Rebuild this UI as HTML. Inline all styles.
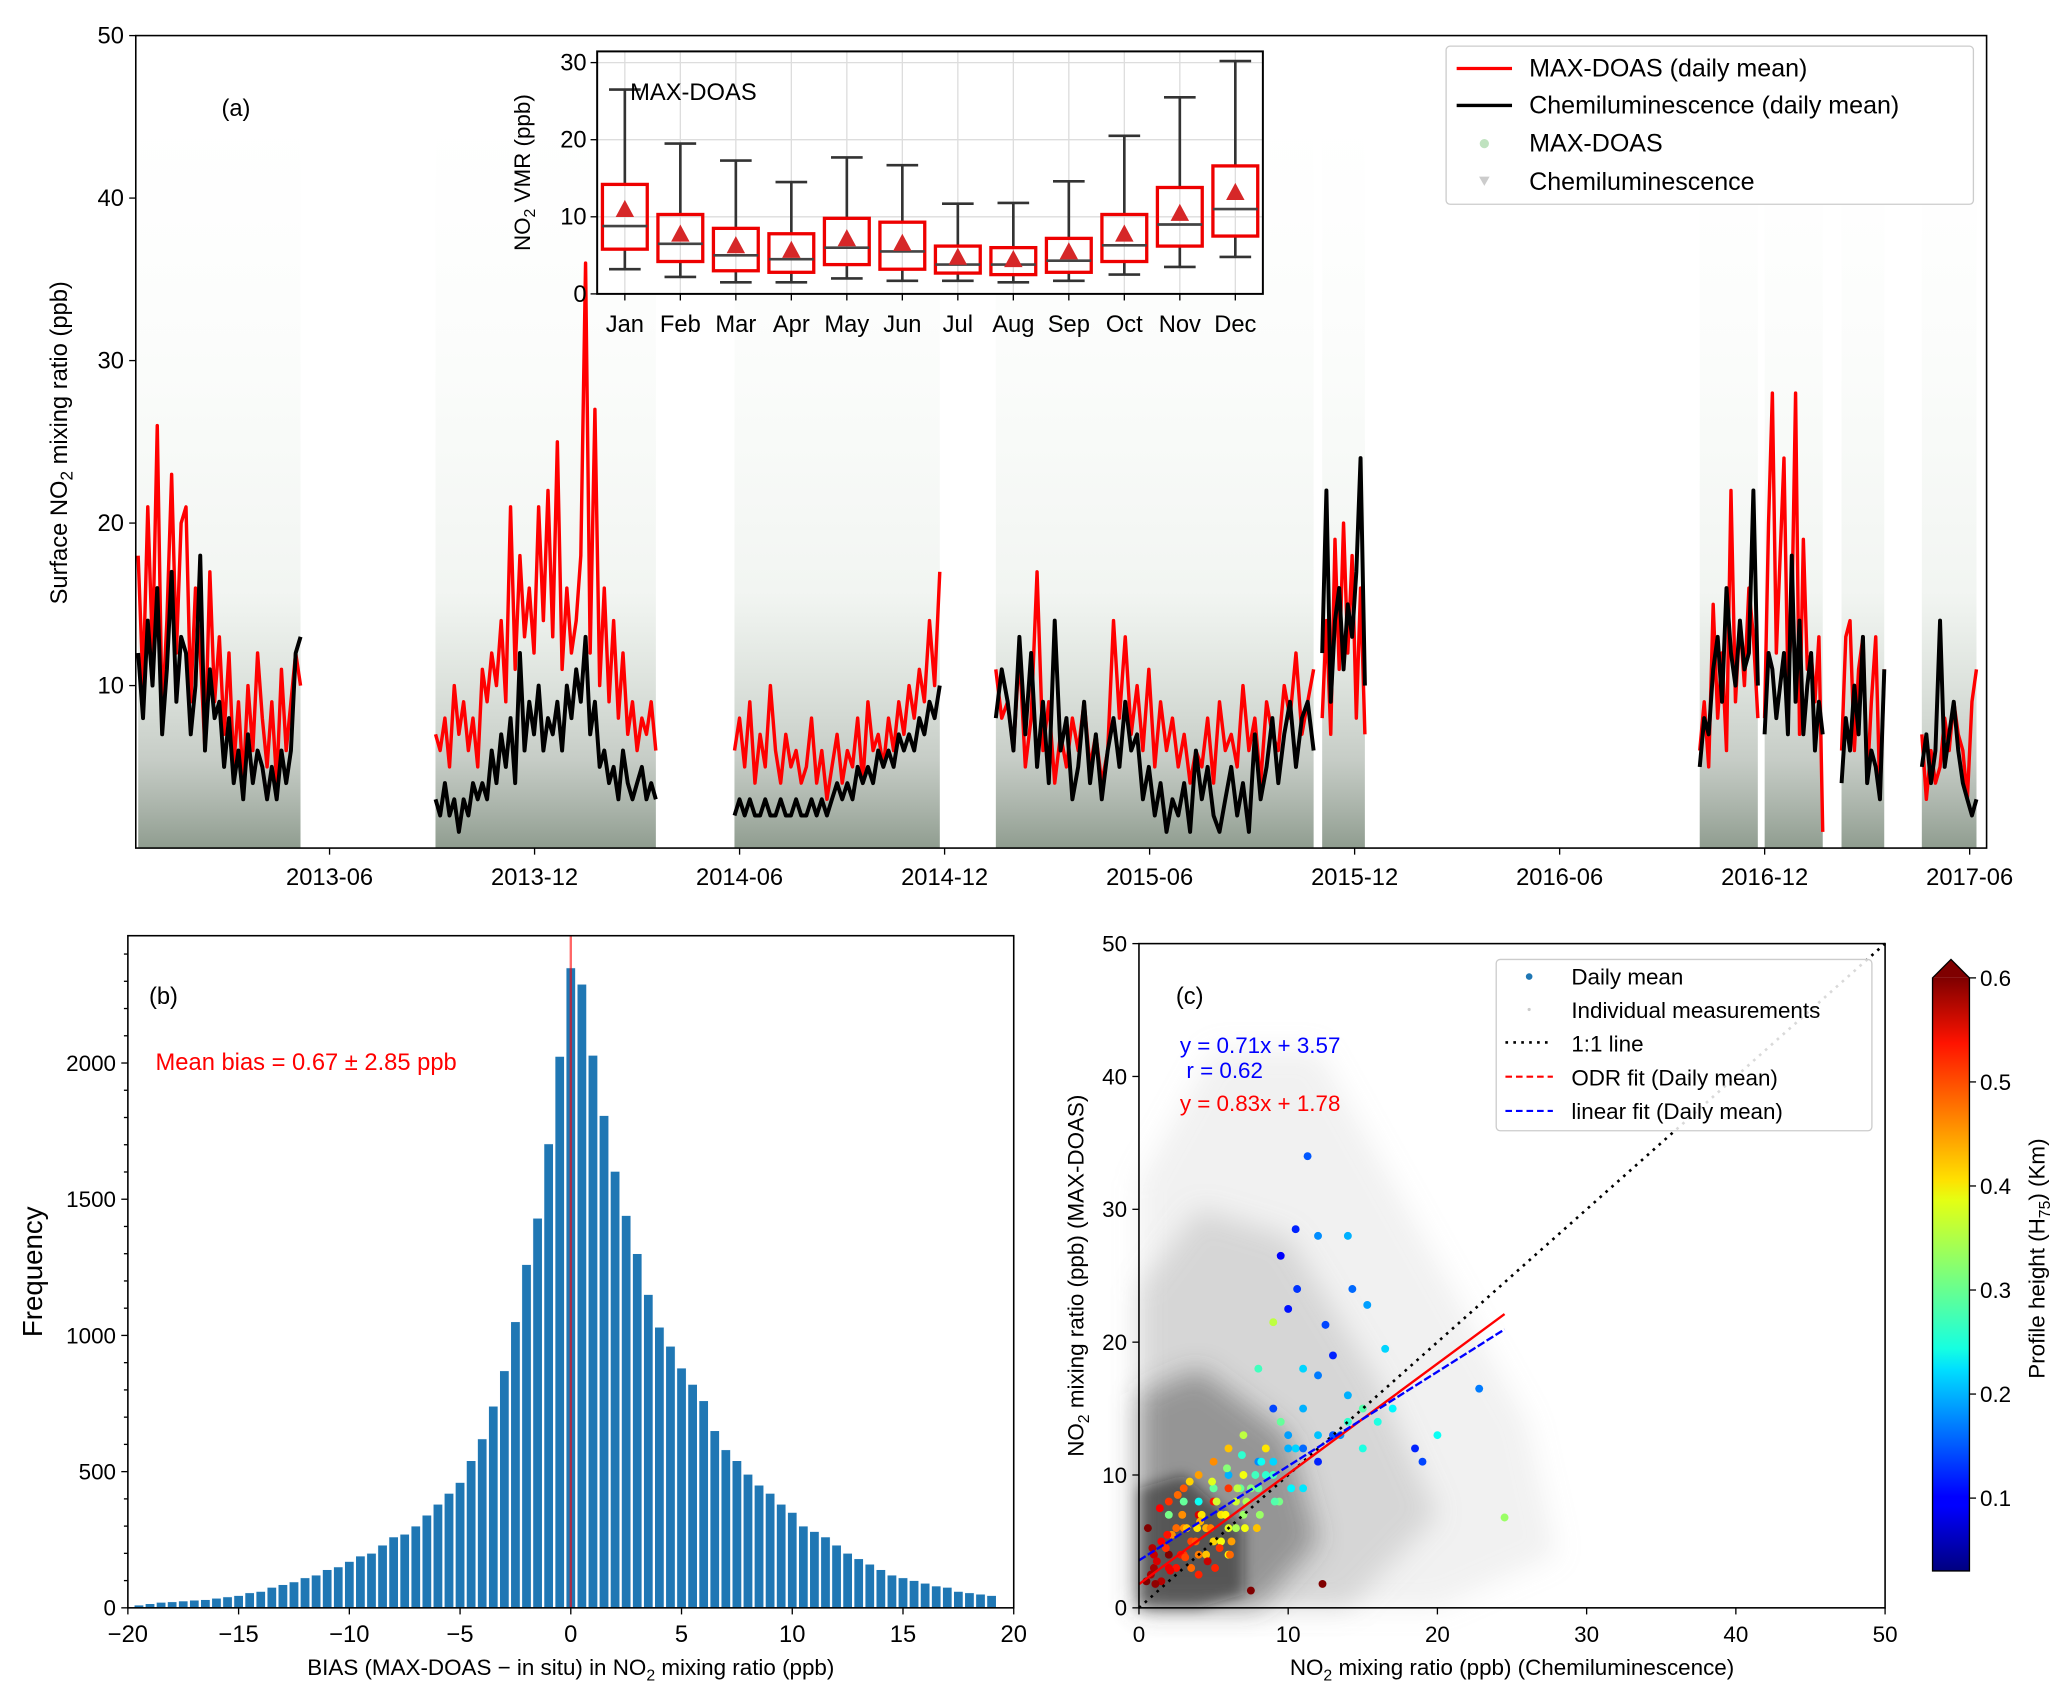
<!DOCTYPE html>
<html><head><meta charset="utf-8"><style>
html,body{margin:0;padding:0;background:#fff}
svg{display:block}
text{font-family:"Liberation Sans","DejaVu Sans",sans-serif;fill:#000}
</style></head><body>
<svg id="fig" xmlns="http://www.w3.org/2000/svg" width="2067" height="1708" viewBox="0 0 1568 1296" preserveAspectRatio="none">
<defs>
<filter id="blur6" x="-50%" y="-50%" width="200%" height="200%"><feGaussianBlur stdDeviation="10"/></filter>
<filter id="blur3" x="-50%" y="-50%" width="200%" height="200%"><feGaussianBlur stdDeviation="5"/></filter>
<linearGradient id="cloudG" x1="0" y1="1" x2="0" y2="0"><stop offset="0" stop-color="#203a20" stop-opacity="0.5"/><stop offset="0.12" stop-color="#405540" stop-opacity="0.3"/><stop offset="0.35" stop-color="#7a9a7a" stop-opacity="0.1"/><stop offset="0.7" stop-color="#a0c0a0" stop-opacity="0.04"/><stop offset="1" stop-color="#c0d8c0" stop-opacity="0"/></linearGradient>
<linearGradient id="jetG" x1="0" y1="1" x2="0" y2="0">
<stop offset="0" stop-color="#00007f"/><stop offset="0.11" stop-color="#0000ff"/><stop offset="0.125" stop-color="#0000ff"/><stop offset="0.34" stop-color="#00dfff"/><stop offset="0.375" stop-color="#16ffe1"/><stop offset="0.5" stop-color="#7dff7a"/><stop offset="0.625" stop-color="#e4ff13"/><stop offset="0.66" stop-color="#ffe000"/><stop offset="0.89" stop-color="#ff1300"/><stop offset="1" stop-color="#7f0000"/></linearGradient>
</defs>
<g id="pa"></g>
<g id="pb"></g>
<g id="pc"></g>
</svg>
<script>
// ---------- Panel (a) data ----------
const segStarts = [-0.6, 8.1, 16.85, 24.5, 34.05, 45.1, 47.0, 49.25, 51.6];
const segEnds   = [4.15, 14.55, 22.86, 33.8, 35.3, 46.8, 48.7, 50.5, 53.2];
const redSeries = [
 [18,10,21,12,26,8,14,23,12,20,21,9,16,12,6,17,9,13,7,12,5,9,4,10,6,12,8,5,9,4,11,6,9,12,10],
 [7,6,8,5,10,7,9,6,8,5,11,9,12,10,14,9,21,11,18,13,16,12,21,14,22,13,25,11,16,12,14,18,36,12,27,10,16,9,14,8,12,7,9,6,8,7,9,6],
 [6,8,5,9,4,7,5,10,6,4,7,5,6,4,5,8,4,6,3,5,7,4,6,5,8,4,9,6,7,5,8,6,9,7,10,8,11,9,14,10,17],
 [11,8,9,6,12,5,8,17,6,9,4,7,5,8,6,9,5,7,4,6,14,8,13,7,10,6,11,5,9,6,8,5,7,4,6,5,8,4,9,6,7,5,10,6,8,4,9,7,6,10,8,12,7,9,11],
 [8,14,7,19,11,20,12,18,8,16,7],
 [6,9,5,15,8,12,6,22,9,14,10,16,13,8],
 [8,20,28,12,18,24,10,14,28,7,19,11,12,9,13,1],
 [6,13,14,6,11,13,4,9,13,3,11],
 [7,3,6,4,5,8,6,9,7,6,3,9,11]
];
const blackSeries = [
 [12,8,14,10,16,7,11,17,9,13,12,7,10,18,6,11,8,9,5,8,4,6,3,7,4,6,5,3,5,3,6,4,6,12,13],
 [3,2,4,2,3,1,3,2,4,3,4,3,6,4,7,5,8,4,12,6,9,7,10,6,8,7,9,6,10,8,11,9,13,7,9,5,6,4,5,3,6,4,3,4,5,3,4,3],
 [2,3,2,3,2,2,3,2,2,3,2,2,3,2,2,3,2,3,2,3,4,3,4,3,5,4,5,4,6,5,6,5,7,6,7,6,8,7,9,8,10],
 [8,11,9,6,13,7,12,5,9,4,14,6,8,3,5,9,4,7,3,6,8,5,9,6,7,3,5,2,4,1,3,2,4,1,6,3,5,2,1,3,5,2,4,1,7,3,5,8,4,7,9,5,8,9,6],
 [12,22,9,14,16,11,15,13,17,24,10],
 [5,8,7,11,13,9,16,12,10,14,11,12,22,10],
 [7,12,11,8,10,12,7,18,9,14,7,10,12,6,9,7],
 [4,8,6,10,7,13,4,6,5,3,11],
 [5,7,4,6,14,5,7,9,6,4,3,2,3]
];
const dateTicks = [5,11,17,23,29,35,41,47,53];
const dateLabels = ["2013-06","2013-12","2014-06","2014-12","2015-06","2015-12","2016-06","2016-12","2017-06"];
const aYTicks = [10,20,30,40,50];
// inset box plot data
const months = ["Jan","Feb","Mar","Apr","May","Jun","Jul","Aug","Sep","Oct","Nov","Dec"];
const wLow  = [3.2,2.2,1.5,1.5,2.0,1.7,1.7,1.5,1.7,2.5,3.5,4.8];
const q1    = [5.8,4.2,3.0,2.8,3.8,3.2,2.7,2.5,2.8,4.2,6.2,7.5];
const med   = [8.8,6.5,5.0,4.5,6.0,5.5,3.8,3.8,4.3,6.3,9.0,11.0];
const q3    = [14.2,10.3,8.5,7.8,9.8,9.3,6.2,6.0,7.2,10.3,13.8,16.6];
const wHigh = [26.5,19.5,17.3,14.5,17.7,16.7,11.7,11.8,14.6,20.5,25.5,30.2];
const meanV = [11.0,7.8,6.3,5.7,7.2,6.6,4.8,4.5,5.5,7.8,10.5,13.2];
const insetYTicks = [0,10,20,30];
// ---------- Panel (b) data ----------
const binCenters = [];
for (let c = -19.5; c <= 19.01; c += 0.5) binCenters.push(+c.toFixed(1));
const binCounts = [10,15,20,22,25,28,30,35,40,45,55,60,75,85,95,110,120,140,150,170,190,200,230,260,270,300,340,380,420,460,540,620,740,870,1050,1260,1430,1703,2024,2349,2289,2028,1807,1602,1440,1300,1150,1030,960,880,820,760,650,580,540,490,450,420,380,350,300,280,260,230,200,180,160,140,120,110,100,90,80,75,60,55,50,45];
const bXTicks = [-20,-15,-10,-5,0,5,10,15,20];
const bYTicks = [0,500,1000,1500,2000];
const meanBias = 0;
// ---------- Panel (c) data ----------
const dmX = [11.3,10.5,12,14,9.5,10.6,14.3,10,15.3,12.5,9,16.5,8,13,12,14,17,22.8,19,18.5,24.5,20,11,13.5,15,9.5,10.5,12,7,8.5,9,10,11,6,7,8,5,6,4,5,3,4,2,3,1.5,2.5,1,2,3.5,4.5,5.5,6.5,7.5,8.5,1,2,3,4,5,6,7,0.5,1.5,2.5,3.5,4.5,5.5,6.5,2,3,4,5,6,8,9,10,11,12,13,14,15,16,7.5,12.3,3,5,9,11,6,4,
 0.8,1.2,1.8,2.2,2.8,3.2,3.8,4.2,4.8,5.2,5.8,6.2,6.8,7.2,0.6,1.4,2.6,3.4,4.6,5.4,6.6,7.8,8.2,9.4,1.1,2.1,3.1,4.1,5.1,6.1,7.1,8.1,9.1,10.2,0.9,1.9,2.9,3.9,4.9,5.9,6.9,7.9];
const dmY = [34,28.5,28,28,26.5,24,24,22.5,22.8,21.3,21.5,19.5,18,19,17.5,16,15,16.5,11,12,6.8,13,15,13,12,14,12,11,13,12,10,13,9,12,10,9,11,9,10,8,9,7,8,6,5,6,4,4,5,6,7,8,9,10,3,3,4,4,5,6,7,2,2,3,3,4,5,6,7,8,8,9,10,11,11,12,12,13,13,14,15,14,1.3,1.8,6,9,15,18,4,2.5,
 2.5,3.5,4.5,5.5,4,6,5,7,6,8,7,5,9,8,6,7.5,8.5,9.5,3.5,4.5,9,10,11,8,1.8,2.8,3.8,6.5,3,4,6,7,8,9,4.5,5.5,7,6,9.5,10.5,11.5,6];
const dmH = [0.15,0.12,0.18,0.2,0.1,0.13,0.16,0.11,0.19,0.14,0.35,0.22,0.28,0.12,0.17,0.2,0.24,0.17,0.14,0.12,0.33,0.25,0.2,0.18,0.26,0.3,0.22,0.12,0.35,0.4,0.28,0.19,0.23,0.42,0.38,0.3,0.45,0.5,0.44,0.52,0.48,0.55,0.5,0.58,0.53,0.47,0.56,0.6,0.49,0.43,0.4,0.36,0.32,0.27,0.58,0.54,0.5,0.46,0.41,0.37,0.33,0.6,0.57,0.52,0.47,0.42,0.38,0.34,0.31,0.3,0.25,0.24,0.2,0.18,0.22,0.2,0.16,0.21,0.15,0.27,0.29,0.26,0.6,0.6,0.45,0.3,0.14,0.22,0.39,0.51,
 0.58,0.55,0.5,0.45,0.52,0.42,0.48,0.4,0.46,0.36,0.39,0.44,0.3,0.34,0.6,0.53,0.47,0.41,0.56,0.5,0.35,0.28,0.25,0.31,0.59,0.54,0.49,0.43,0.51,0.47,0.38,0.33,0.29,0.24,0.57,0.52,0.45,0.4,0.37,0.32,0.27,0.42];
const cTicks = [0,10,20,30,40,50];
const cbTicks = [0.1,0.2,0.3,0.4,0.5,0.6];
const odrFit = [0.83,1.78];
const linFit = [0.71,3.57];
const fitMaxX = 24.5;

// ---------- helpers ----------
const NS = "http://www.w3.org/2000/svg";
function mk(parent, tag, attrs, txt){
  const e = document.createElementNS(NS, tag);
  for (const k in attrs) e.setAttribute(k, attrs[k]);
  if (txt !== undefined) e.textContent = txt;
  parent.appendChild(e); return e;
}
function jet(v){
  const t = Math.max(0, Math.min(1, (v-0.03)/(0.6-0.03)));
  const r = Math.max(0, Math.min(1, 1.5 - Math.abs(4*t-3)));
  const g = Math.max(0, Math.min(1, 1.5 - Math.abs(4*t-2)));
  const b = Math.max(0, Math.min(1, 1.5 - Math.abs(4*t-1)));
  return `rgb(${Math.round(r*255)},${Math.round(g*255)},${Math.round(b*255)})`;
}

// ---------- Panel (a) ----------
const pa = document.getElementById('pa');
const aL=103, aR=1507, aT=27, aB=643.5;
const ax = m => 120.4 + m*25.92;
const ay = v => aB - v*12.33;
for (let s=0; s<segStarts.length; s++){
  const r = mk(pa,'rect',{x:ax(segStarts[s]), y:ay(45), width:ax(segEnds[s])-ax(segStarts[s]), height:ay(0)-ay(45), fill:'url(#cloudG)'});
  
  
}
for (let s=0; s<segStarts.length; s++){
  [[redSeries,'#ff0000',2.6,'maxdoas-daily-line-'],[blackSeries,'#000',3,'chemi-daily-line-']].forEach(([ser,col,w,nm])=>{
    const vals = ser[s], n = vals.length;
    const pts = vals.map((v,i)=>`${(ax(segStarts[s] + (segEnds[s]-segStarts[s])*i/(n-1))).toFixed(1)},${ay(v).toFixed(1)}`).join(' ');
    const p = mk(pa,'polyline',{points:pts, fill:'none', stroke:col, 'stroke-width':w, 'stroke-linejoin':'round'});
    
    
  });
}
mk(pa,'rect',{x:aL,y:aT,width:aR-aL,height:aB-aT,fill:'none',stroke:'#000','stroke-width':1.2});
aYTicks.forEach(v=>{
  mk(pa,'line',{x1:aL-5,x2:aL,y1:ay(v),y2:ay(v),stroke:'#000'});
  const t = mk(pa,'text',{x:aL-9,y:ay(v)+6,'text-anchor':'end','font-size':18},v);
  
  
});
dateTicks.forEach((m,i)=>{
  mk(pa,'line',{x1:ax(m),x2:ax(m),y1:aB,y2:aB+5,stroke:'#000'});
  const t = mk(pa,'text',{x:ax(m),y:aB+28,'text-anchor':'middle','font-size':18},dateLabels[i]);
  
  
});
{
  const t = mk(pa,'text',{transform:'translate(51,336) rotate(-90)','text-anchor':'middle','font-size':18});
  t.innerHTML = 'Surface NO<tspan font-size="13" dy="4">2</tspan><tspan dy="-4"> mixing ratio (ppb)</tspan>';
  
  
  const l = mk(pa,'text',{x:168,y:88,'font-size':18},'(a)');
  
  
}
{
  const g = mk(pa,'g',{});
  
  
  mk(g,'rect',{x:1097,y:35,width:400,height:120,fill:'#fff','fill-opacity':0.85,stroke:'#ccc',rx:3});
  mk(g,'line',{x1:1105,x2:1147,y1:52,y2:52,stroke:'#f00','stroke-width':2.5});
  mk(g,'line',{x1:1105,x2:1147,y1:80,y2:80,stroke:'#000','stroke-width':2.5});
  mk(g,'circle',{cx:1126,cy:109,r:3.5,fill:'#2ca02c','fill-opacity':0.3});
  mk(g,'path',{d:'M1122,134 L1130,134 L1126,141 Z',fill:'#999','fill-opacity':0.5});
  const labs=['MAX-DOAS (daily mean)','Chemiluminescence (daily mean)','MAX-DOAS','Chemiluminescence'];
  const ys=[58,86,115,144];
  labs.forEach((s,i)=>{
    const t=mk(g,'text',{x:1160,y:ys[i],'font-size':19},s);
    
    
  });
}
{
  const g = mk(pa,'g',{});
  
  
  const iL=453,iR=958,iT=39,iB=223;
  const iy = v => iB - v*5.85;
  const ix = i => 474 + i*42.1;
  mk(g,'rect',{x:iL,y:iT,width:iR-iL,height:iB-iT,fill:'#fff'});
  insetYTicks.forEach(v=>{
    mk(g,'line',{x1:iL,x2:iR,y1:iy(v),y2:iy(v),stroke:'#ddd','stroke-width':1});
    mk(g,'line',{x1:iL-5,x2:iL,y1:iy(v),y2:iy(v),stroke:'#000'});
    const t=mk(g,'text',{x:iL-8,y:iy(v)+6,'text-anchor':'end','font-size':18},v);
    
    
  });
  months.forEach((m,i)=>{
    mk(g,'line',{x1:ix(i),x2:ix(i),y1:iT,y2:iB,stroke:'#ddd'});
    const x=ix(i);
    mk(g,'line',{x1:x,x2:x,y1:iy(wLow[i]),y2:iy(q1[i]),stroke:'#333','stroke-width':2});
    mk(g,'line',{x1:x,x2:x,y1:iy(q3[i]),y2:iy(wHigh[i]),stroke:'#333','stroke-width':2});
    mk(g,'line',{x1:x-12,x2:x+12,y1:iy(wLow[i]),y2:iy(wLow[i]),stroke:'#333','stroke-width':2});
    mk(g,'line',{x1:x-12,x2:x+12,y1:iy(wHigh[i]),y2:iy(wHigh[i]),stroke:'#333','stroke-width':2});
    const b=mk(g,'rect',{x:x-17,y:iy(q3[i]),width:34,height:iy(q1[i])-iy(q3[i]),fill:'none',stroke:'#e00','stroke-width':2.5});
    
    
    mk(g,'line',{x1:x-17,x2:x+17,y1:iy(med[i]),y2:iy(med[i]),stroke:'#444','stroke-width':2});
    const my=iy(meanV[i]);
    mk(g,'path',{d:`M${x-7},${my+6} L${x+7},${my+6} L${x},${my-7} Z`,fill:'#d62728'});
    mk(g,'line',{x1:x,x2:x,y1:iB,y2:iB+5,stroke:'#000'});
    const t=mk(g,'text',{x:x,y:iB+29,'text-anchor':'middle','font-size':18},m);
    
    
  });
  mk(g,'rect',{x:iL,y:iT,width:iR-iL,height:iB-iT,fill:'none',stroke:'#000','stroke-width':1.5});
  const t=mk(g,'text',{x:478,y:76,'font-size':18},'MAX-DOAS');
  
  
  const yl=mk(g,'text',{transform:'translate(402,131) rotate(-90)','text-anchor':'middle','font-size':17});
  yl.innerHTML='NO<tspan font-size="12" dy="4">2</tspan><tspan dy="-4"> VMR (ppb)</tspan>';
  
  
}

// ---------- Panel (b) ----------
const pb = document.getElementById('pb');
const bL=97,bR=769,bT=710,bB=1220;
const bx = v => bL + (v+20)*16.8;
const by = v => bB - v*0.2067;
binCenters.forEach((c,i)=>{
  const r=mk(pb,'rect',{x:bx(c-0.21),y:by(binCounts[i]),width:bx(c+0.21)-bx(c-0.21),height:by(0)-by(binCounts[i]),fill:'#1f77b4',stroke:'#fff','stroke-width':0.4});
  
  
});
{
  const l=mk(pb,'line',{x1:bx(meanBias),x2:bx(meanBias),y1:bT,y2:bB,stroke:'#f00','stroke-opacity':0.6,'stroke-width':1.8});
  
  
}
mk(pb,'rect',{x:bL,y:bT,width:bR-bL,height:bB-bT,fill:'none',stroke:'#000','stroke-width':1.2});
bXTicks.forEach(v=>{
  mk(pb,'line',{x1:bx(v),x2:bx(v),y1:bB,y2:bB+5,stroke:'#000'});
  const t=mk(pb,'text',{x:bx(v),y:bB+26,'text-anchor':'middle','font-size':18},v<0?'\u2212'+(-v):v);
  
  
});
for (let v=0; v<=2400; v+=100){
  mk(pb,'line',{x1:bL-(v%500?3:5),x2:bL,y1:by(v),y2:by(v),stroke:'#000'});
}
bYTicks.forEach(v=>{
  const t=mk(pb,'text',{x:bL-9,y:by(v)+6,'text-anchor':'end','font-size':17},v);
  
  
});
{
  const xl=mk(pb,'text',{x:433,y:1271,'text-anchor':'middle','font-size':17});
  xl.innerHTML='BIAS (MAX-DOAS \u2212 in situ) in NO<tspan font-size="12" dy="4">2</tspan><tspan dy="-4"> mixing ratio (ppb)</tspan>';
  
  
  const yl=mk(pb,'text',{transform:'translate(32,965) rotate(-90)','text-anchor':'middle','font-size':21},'Frequency');
  
  
  const l=mk(pb,'text',{x:113,y:762,'font-size':18},'(b)');
  
  
  const m=mk(pb,'text',{x:118,y:812,'font-size':18,style:'fill:#f00'},'Mean bias = 0.67 \u00b1 2.85 ppb');
  
  
}

// ---------- Panel (c) ----------
const pc = document.getElementById('pc');
const cL=864,cR=1430,cT=716,cB=1220;
const cx = v => cL + v*11.32;
const cy = v => cB - v*10.08;
{
  const g=mk(pc,'g',{});
  
  
  mk(g,'path',{d:`M${cx(0)},${cy(0)} L${cx(0)},${cy(32)} L${cx(5)},${cy(42)} L${cx(12)},${cy(42)} L${cx(18)},${cy(30)} L${cx(26)},${cy(14)} L${cx(28)},${cy(4)} L${cx(20)},${cy(0)} Z`,fill:'#bbb','fill-opacity':0.2,filter:'url(#blur6)'});
  mk(g,'path',{d:`M${cx(0)},${cy(0)} L${cx(0)},${cy(24)} L${cx(4)},${cy(30)} L${cx(10)},${cy(28)} L${cx(16)},${cy(17)} L${cx(20)},${cy(7)} L${cx(14)},${cy(0)} Z`,fill:'#999','fill-opacity':0.3,filter:'url(#blur6)'});
  mk(g,'path',{d:`M${cx(0)},${cy(0)} L${cx(0)},${cy(16)} L${cx(4)},${cy(18)} L${cx(10)},${cy(13)} L${cx(12)},${cy(5)} L${cx(8)},${cy(0)} Z`,fill:'#444','fill-opacity':0.45,filter:'url(#blur6)'});
  mk(g,'path',{d:`M${cx(0)},${cy(0)} L${cx(0)},${cy(9)} L${cx(3)},${cy(10)} L${cx(7)},${cy(6)} L${cx(7)},${cy(1)} L${cx(4)},${cy(0)} Z`,fill:'#111','fill-opacity':0.5,filter:'url(#blur3)'});
}
dmX.forEach((x,i)=>{
  const c=mk(pc,'circle',{cx:cx(x),cy:cy(dmY[i]),r:3,fill:jet(dmH[i])});
  
  
});
{
  const l1=mk(pc,'line',{x1:cx(0),y1:cy(0),x2:cx(50),y2:cy(50),stroke:'#000','stroke-width':2,'stroke-dasharray':'2,4'});
  
  
  const l2=mk(pc,'line',{x1:cx(0),y1:cy(odrFit[1]),x2:cx(fitMaxX),y2:cy(odrFit[0]*fitMaxX+odrFit[1]),stroke:'#f00','stroke-width':1.8});
  
  
  const l3=mk(pc,'line',{x1:cx(0),y1:cy(linFit[1]),x2:cx(fitMaxX),y2:cy(linFit[0]*fitMaxX+linFit[1]),stroke:'#00f','stroke-width':1.8,'stroke-dasharray':'6,2'});
  
  
}
mk(pc,'rect',{x:cL,y:cT,width:cR-cL,height:cB-cT,fill:'none',stroke:'#000','stroke-width':1.2});
cTicks.forEach(v=>{
  mk(pc,'line',{x1:cx(v),x2:cx(v),y1:cB,y2:cB+5,stroke:'#000'});
  const t=mk(pc,'text',{x:cx(v),y:cB+26,'text-anchor':'middle','font-size':17},v);
  
  
  mk(pc,'line',{x1:cL-5,x2:cL,y1:cy(v),y2:cy(v),stroke:'#000'});
  const t2=mk(pc,'text',{x:cL-9,y:cy(v)+6,'text-anchor':'end','font-size':17},v);
  
  
});
{
  const xl=mk(pc,'text',{x:1147,y:1271,'text-anchor':'middle','font-size':17});
  xl.innerHTML='NO<tspan font-size="12" dy="4">2</tspan><tspan dy="-4"> mixing ratio (ppb) (Chemiluminescence)</tspan>';
  
  
  const yl=mk(pc,'text',{transform:'translate(822,968) rotate(-90)','text-anchor':'middle','font-size':17});
  yl.innerHTML='NO<tspan font-size="12" dy="4">2</tspan><tspan dy="-4"> mixing ratio (ppb) (MAX-DOAS)</tspan>';
  
  
  const l=mk(pc,'text',{x:892,y:762,'font-size':18},'(c)');
  
  
  const a1=mk(pc,'text',{x:895,y:799,'font-size':17,style:'fill:#00f'},'y = 0.71x + 3.57');
  
  
  const a2=mk(pc,'text',{x:900,y:818,'font-size':17,style:'fill:#00f'},'r = 0.62');
  
  
  const a3=mk(pc,'text',{x:895,y:843,'font-size':17,style:'fill:#f00'},'y = 0.83x + 1.78');
  
  
}
{
  const g=mk(pc,'g',{});
  
  
  mk(g,'rect',{x:1135,y:728,width:285,height:130,fill:'#fff','fill-opacity':0.85,stroke:'#ccc',rx:3});
  mk(g,'circle',{cx:1160,cy:741,r:2.5,fill:'#1f77b4'});
  mk(g,'circle',{cx:1160,cy:766,r:1.2,fill:'#ccc'});
  mk(g,'line',{x1:1142,x2:1178,y1:791,y2:791,stroke:'#000','stroke-width':2,'stroke-dasharray':'2,4'});
  mk(g,'line',{x1:1142,x2:1178,y1:817,y2:817,stroke:'#f00','stroke-width':1.6,'stroke-dasharray':'5,3'});
  mk(g,'line',{x1:1142,x2:1178,y1:843,y2:843,stroke:'#00f','stroke-width':1.6,'stroke-dasharray':'5,3'});
  ['Daily mean','Individual measurements','1:1 line','ODR fit (Daily mean)','linear fit (Daily mean)'].forEach((s,i)=>{
    const t=mk(g,'text',{x:1192,y:747+i*25.5,'font-size':17},s);
    
    
  });
}
{
  const g=mk(pc,'g',{});
  
  
  const cbT=742, cbB=1192;
  const cby = v => cbB - (v-0.03)/(0.6-0.03)*(cbB-cbT);
  mk(g,'rect',{x:1466,y:cbT,width:28,height:cbB-cbT,fill:'url(#jetG)'});
  mk(g,'path',{d:`M1466,${cbT} L1480,728 L1494,${cbT} Z`,fill:'#7f0000'});
  mk(g,'path',{d:`M1466,${cbB} L1466,${cbT} L1480,728 L1494,${cbT} L1494,${cbB} Z`,fill:'none',stroke:'#000','stroke-width':1});
  cbTicks.forEach(v=>{
    mk(g,'line',{x1:1494,x2:1499,y1:cby(v),y2:cby(v),stroke:'#000'});
    const t=mk(g,'text',{x:1502,y:cby(v)+6,'font-size':17},v.toFixed(1));
    
    
  });
  const yl=mk(g,'text',{transform:'translate(1551,955) rotate(-90)','text-anchor':'middle','font-size':17});
  yl.innerHTML='Profile height (H<tspan font-size="12" dy="4">75</tspan><tspan dy="-4">) (Km)</tspan>';
  
  
}
</script>
</body></html>
